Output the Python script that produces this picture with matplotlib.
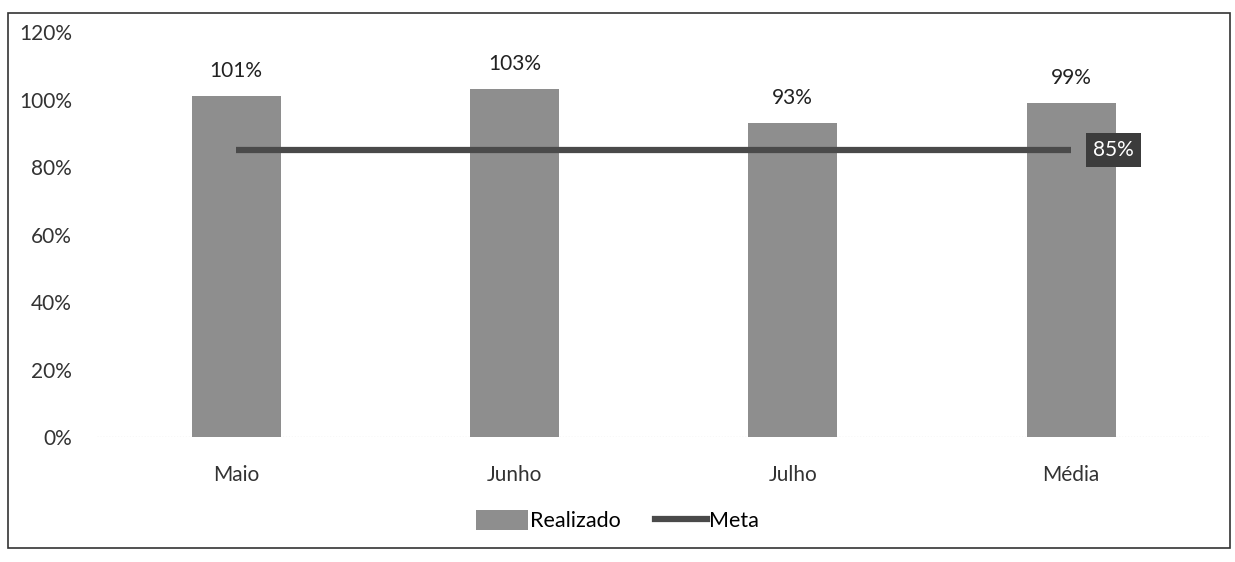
import matplotlib.pyplot as plt
from matplotlib.patches import Rectangle, Patch
from matplotlib.lines import Line2D

plt.rcParams['font.family'] = ['Lato', 'DejaVu Sans']

# data
categorias = ["Maio", "Junho", "Julho", "Média"]
realizado = [1.01, 1.03, 0.93, 0.99]
meta = [0.85, 0.85, 0.85, 0.85]

#fig
fig = plt.figure(figsize=(12.35, 5.62), dpi=100)
ax = fig.add_axes([0.0785, 0.2224, 0.9015, 0.7206])

x = list(range(len(categorias)))
ax.bar(x, realizado, width=0.32, color="#8e8e8e", zorder=2)
ax.plot(x, meta, color="#4a4a4a", lw=4.5, zorder=3, solid_capstyle="butt")

# labels on bars
for xi, v in zip(x, realizado):
    ax.text(xi, v + 0.045, f"{round(v*100)}%", ha="center", va="bottom", fontsize=15, color="#222222")

# meta label at the end
ax.annotate(f"{round(meta[-1]*100)}%", xy=(x[-1], meta[-1]), xytext=(16, 0), textcoords="offset points",
            ha="left", va="center", fontsize=15, color="white",
            bbox=dict(boxstyle="square,pad=0.35", fc="#3c3c3c", ec="none"), zorder=4)

#ax
ax.set_xlim(-0.5, 3.5)
ax.set_ylim(0, 1.2)
ax.set_yticks([0, 0.2, 0.4, 0.6, 0.8, 1.0, 1.2])
ax.set_yticklabels([f"{int(round(t*100))}%" for t in ax.get_yticks()], fontsize=15, color="#333333")
ax.set_xticks(x)
ax.set_xticklabels(categorias, fontsize=15, color="#333333")
ax.tick_params(length=0, axis="both")
ax.tick_params(axis="y", pad=18)
ax.tick_params(axis="x", pad=20)
for s in ax.spines.values():
    s.set_visible(False)
ax.axhline(0, color="#888888", lw=0.8, ls=":", zorder=1)

# legend
handles = [Patch(fc="#8e8e8e", ec="none", label="Realizado"),
           Line2D([], [], color="#4a4a4a", lw=4.5, label="Meta")]
fig.legend(handles=handles, loc="center", bbox_to_anchor=(0.5, 0.073), ncol=2, frameon=False, fontsize=15.5,
           handlelength=2.4, handleheight=1.0, handletextpad=0.1, columnspacing=1.6)

# chart frame
fig.patches.append(Rectangle((8/1235, 14/562), 1222/1235, 535/562, transform=fig.transFigure,
                             fill=False, ec="#333333", lw=1.2))

fig.savefig("out.png", dpi=100, facecolor="white")
